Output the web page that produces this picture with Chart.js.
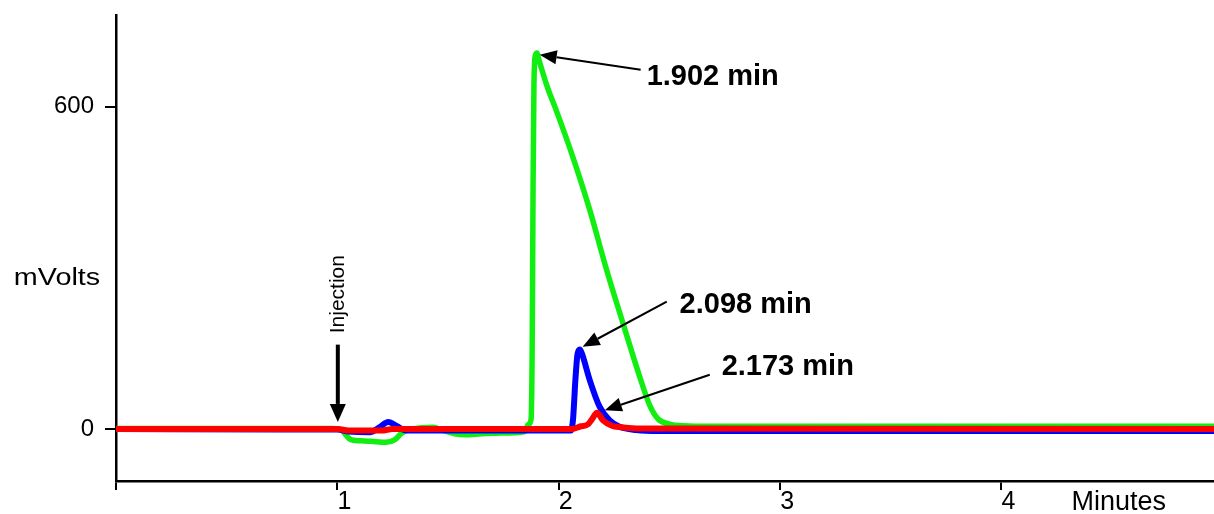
<!DOCTYPE html>
<html>
<head>
<meta charset="utf-8">
<script src="https://cdn.jsdelivr.net/npm/chart.js@4"></script>
<style>
  html, body { margin: 0; padding: 0; background: #fff; }
  #chart { display: block; }
</style>
</head>
<body>
<canvas id="chart" width="1214" height="514"></canvas>
<script>
// chromatogram traces (minutes, mV)
const greenTimes = [0, 0.5, 0.98, 1.02, 1.04, 1.06, 1.10, 1.15, 1.22, 1.26, 1.29, 1.33, 1.38, 1.43, 1.48, 1.53, 1.58, 1.65, 1.72, 1.80, 1.846, 1.862, 1.875, 1.880, 1.884, 1.888, 1.894, 1.902, 1.91, 1.95, 1.99, 2.065, 2.14, 2.215, 2.29, 2.366, 2.41, 2.45, 2.50, 2.56, 2.70, 3.5, 4.96];
const greenMv    = [1, 1, 1, -2, -12, -20, -22, -23, -25, -20, -8, -1, 2, 3, -3, -9, -11, -9, -8, -7, -5, 8, 18, 150, 450, 640, 695, 700, 688, 635, 592, 505, 408, 298, 197, 97, 45, 18, 9, 6, 5, 5, 5];

const blueTimes = [0, 0.75, 1.0, 1.05, 1.15, 1.19, 1.23, 1.27, 1.31, 1.5, 2.0, 2.055, 2.065, 2.075, 2.085, 2.095, 2.105, 2.14, 2.185, 2.23, 2.275, 2.35, 2.45, 4.96];
const blueMv    = [0, -1, -1, -5, -6, 3, 13, 5, -3, -3, -3, -3, 20, 90, 140, 148, 140, 91, 41, 16, 4, -2, -4, -4];

const redTimes = [0, 1.0, 1.05, 1.2, 1.25, 2.06, 2.10, 2.13, 2.15, 2.173, 2.20, 2.24, 2.28, 2.35, 4.96];
const redMv    = [0, 0, -3, -3, 0, 0, 5, 8, 18, 30, 16, 6, 3, 1, 0];

// axis ticks
const xTicks = [0, 1, 2, 3, 4];
const yTicks = [0, 600];

// peak callouts: label, text anchor (min, mV), arrow tail, arrow tip
const peakLabels = ['1.902 min', '2.098 min', '2.173 min'];
const labelAt = [[2.397, 641], [2.546, 216], [2.736, 101]];
const arrowFrom = [[2.370, 669], [2.488, 237], [2.682, 101]];
const arrowTo = [[1.914, 697], [2.108, 153], [2.208, 35]];
const injection = { time: 1.002, textMv: 251, tailMv: 157, tipMv: 13 };

const FONT = '"Liberation Sans", Arial, Helvetica, sans-serif';

function toPoints(ts, vs) {
  return ts.map((t, i) => ({ x: t, y: vs[i] }));
}

function drawArrow(ctx, x1, y1, x2, y2, lw, headLen, headW) {
  const ang = Math.atan2(y2 - y1, x2 - x1);
  const bx = x2 - Math.cos(ang) * headLen;
  const by = y2 - Math.sin(ang) * headLen;
  ctx.strokeStyle = '#000';
  ctx.fillStyle = '#000';
  ctx.lineWidth = lw;
  ctx.beginPath();
  ctx.moveTo(x1, y1);
  ctx.lineTo(bx, by);
  ctx.stroke();
  ctx.beginPath();
  ctx.moveTo(x2, y2);
  ctx.lineTo(bx + Math.sin(ang) * headW / 2, by - Math.cos(ang) * headW / 2);
  ctx.lineTo(bx - Math.sin(ang) * headW / 2, by + Math.cos(ang) * headW / 2);
  ctx.closePath();
  ctx.fill();
}

/* =============================== */
/* Callouts and axis titles */
/* =============================== */
const notesPlugin = {
  id: 'notes',
  afterDraw(chart) {
    const ctx = chart.ctx;
    const xs = chart.scales.x, ys = chart.scales.y;
    ctx.save();

    // peak labels + arrows
    ctx.font = 'bold 29px ' + FONT;
    ctx.textAlign = 'left';
    ctx.textBaseline = 'alphabetic';
    ctx.fillStyle = '#000';
    peakLabels.forEach((txt, i) => {
      drawArrow(ctx,
        xs.getPixelForValue(arrowFrom[i][0]), ys.getPixelForValue(arrowFrom[i][1]),
        xs.getPixelForValue(arrowTo[i][0]), ys.getPixelForValue(arrowTo[i][1]),
        2, 17, 14);
      ctx.fillText(txt, xs.getPixelForValue(labelAt[i][0]), ys.getPixelForValue(labelAt[i][1]));
    });

    // injection marker
    const ix = xs.getPixelForValue(injection.time);
    drawArrow(ctx, ix, ys.getPixelForValue(injection.tailMv), ix, ys.getPixelForValue(injection.tipMv), 4, 18, 16);
    ctx.save();
    ctx.translate(ix + 6, ys.getPixelForValue(injection.textMv));
    ctx.rotate(-Math.PI / 2);
    ctx.font = '21px ' + FONT;
    ctx.textAlign = 'center';
    ctx.textBaseline = 'alphabetic';
    ctx.fillText('Injection', 0, 0);
    ctx.restore();

    // y title
    ctx.save();
    ctx.translate(57, ys.getPixelForValue(280));
    ctx.scale(1.25, 1);
    ctx.font = '23px ' + FONT;
    ctx.textAlign = 'center';
    ctx.textBaseline = 'middle';
    ctx.fillText('mVolts', 0, 0);
    ctx.restore();

    // x title
    ctx.font = '27px ' + FONT;
    ctx.textAlign = 'center';
    ctx.textBaseline = 'alphabetic';
    ctx.fillText('Minutes', xs.getPixelForValue(4.53), 510);

    ctx.restore();
  }
};

const axisLine = { display: true, color: '#000', width: 2.5 };

new Chart(document.getElementById('chart'), {
  type: 'line',
  data: {
    datasets: [
      { data: toPoints(redTimes, redMv), borderColor: '#ff0000', borderWidth: 6 },
      { data: toPoints(blueTimes, blueMv), borderColor: '#0000ff', borderWidth: 6 },
      { data: toPoints(greenTimes, greenMv), borderColor: '#11ee11', borderWidth: 5.5 }
    ]
  },
  options: {
    responsive: false,
    animation: false,
    devicePixelRatio: 1,
    layout: { padding: { top: 15, right: 0, left: 0, bottom: 0 } },
    elements: {
      point: { radius: 0 },
      line: { cubicInterpolationMode: 'monotone', fill: false, borderCapStyle: 'round', borderJoinStyle: 'round' }
    },
    plugins: { legend: { display: false }, tooltip: { enabled: false } },
    scales: {
      x: {
        type: 'linear',
        min: 0,
        max: 4.96,
        border: axisLine,
        grid: { drawOnChartArea: false, drawTicks: true, tickLength: 9, color: '#000', lineWidth: 2 },
        afterBuildTicks: s => { s.ticks = xTicks.map(v => ({ value: v })); },
        ticks: {
          autoSkip: false, maxRotation: 0, color: '#000', padding: -3, labelOffset: 7,
          font: { family: FONT, size: 25 },
          callback: v => (v === 0 ? '' : v)
        },
        afterFit: s => { s.height = 33; s.paddingLeft = 0; s.paddingRight = 0; }
      },
      y: {
        min: -97,
        max: 771,
        border: axisLine,
        grid: { drawOnChartArea: false, drawTicks: true, tickLength: 11, color: '#000', lineWidth: 2 },
        afterBuildTicks: s => { s.ticks = yTicks.map(v => ({ value: v })); },
        ticks: { color: '#000', padding: 11, font: { family: FONT, size: 24 } },
        afterFit: s => { s.width = 116; s.paddingTop = 0; s.paddingBottom = 0; }
      }
    }
  },
  plugins: [notesPlugin]
});
</script>
</body>
</html>
